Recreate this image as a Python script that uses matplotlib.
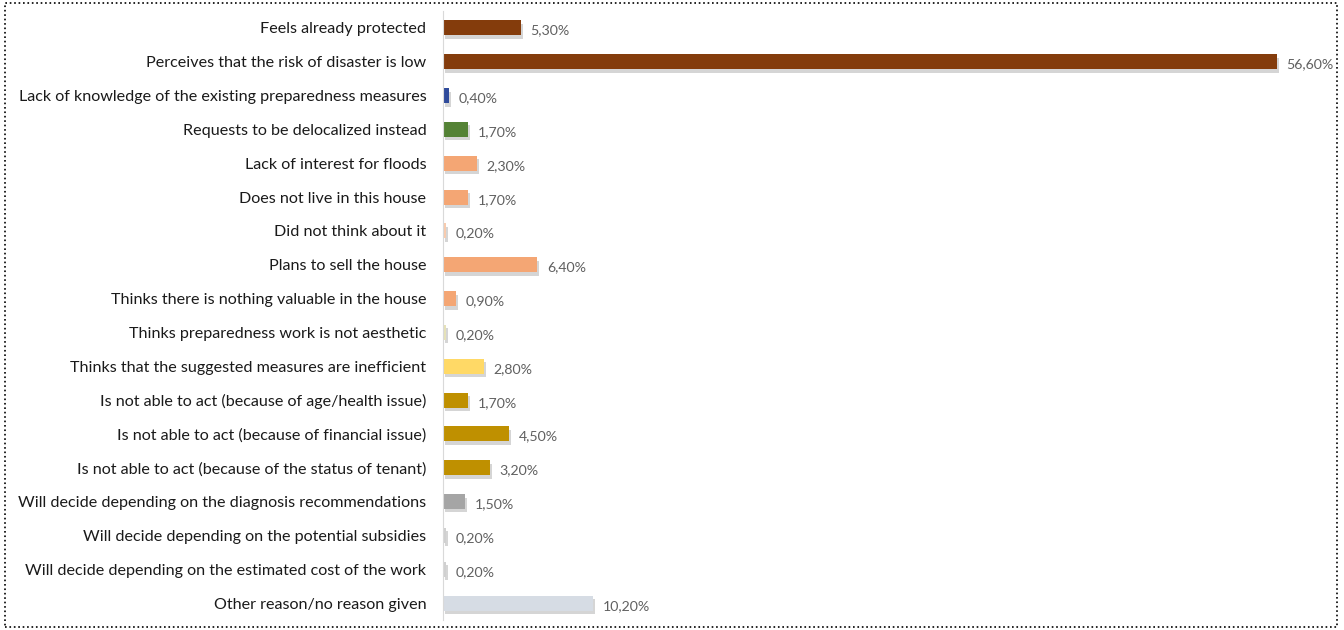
import numpy as np
import matplotlib.pyplot as plt
import matplotlib.patheffects as pe
from matplotlib.patches import Rectangle

# data
reasons = ['Feels already protected',
           'Perceives that the risk of disaster is low',
           'Lack of knowledge of the existing preparedness measures',
           'Requests to be delocalized instead',
           'Lack of interest for floods',
           'Does not live in this house',
           'Did not think about it',
           'Plans to sell the house',
           'Thinks there is nothing valuable in the house',
           'Thinks preparedness work is not aesthetic',
           'Thinks that the suggested measures are inefficient',
           'Is not able to act (because of age/health issue)',
           'Is not able to act (because of financial issue)',
           'Is not able to act (because of the status of tenant)',
           'Will decide depending on the diagnosis recommendations',
           'Will decide depending on the potential subsidies',
           'Will decide depending on the estimated cost of the work',
           'Other reason/no reason given']
percent = [5.3, 56.6, 0.4, 1.7, 2.3, 1.7, 0.2, 6.4, 0.9, 0.2, 2.8, 1.7, 4.5, 3.2, 1.5, 0.2, 0.2, 10.2]
labels = ['5,30%', '56,60%', '0,40%', '1,70%', '2,30%', '1,70%', '0,20%', '6,40%', '0,90%',
          '0,20%', '2,80%', '1,70%', '4,50%', '3,20%', '1,50%', '0,20%', '0,20%', '10,20%']
colors = ['#843C0C', '#843C0C', '#2F4B9B', '#548235', '#F4A674', '#F4A674', '#F8CBAD', '#F4A674',
          '#F4A674', '#E6E2B8', '#FFD966', '#BF9000', '#BF9000', '#BF9000', '#A5A5A5',
          '#D0D0D0', '#D0D0D0', '#D6DCE4']

plt.rcParams['font.family'] = ['Lato', 'DejaVu Sans']

fig = plt.figure(figsize=(13.44, 6.3), dpi=100)
ax = fig.add_axes([0.3296, 0.0159, 0.6575, 0.9666])

y = np.arange(len(reasons))
bars = ax.barh(y, percent, height=0.44, color=colors,
               path_effects=[pe.SimplePatchShadow(offset=(1.5, -2.5), shadow_rgbFace='#888888', alpha=0.35),
                             pe.Normal()])
for yi, v, lab in zip(y, percent, labels):
    ax.text(v + 0.65, yi + 0.08, lab, va='center', ha='left', fontsize=10.2, color='#606060')

ax.set_xlim(0, 60)
ax.set_ylim(len(reasons) - 0.5, -0.5)
ax.set_yticks(y)
ax.set_yticklabels(reasons, fontsize=11.6, color='#1a1a1a')
ax.tick_params(axis='y', length=0, pad=12)
ax.set_xticks([])
for s in ['top', 'right', 'bottom']:
    ax.spines[s].set_visible(False)
ax.spines['left'].set_color('#d9d9d9')

# dotted frame
fig.patches.append(Rectangle((0.004, 0.005), 0.991, 0.99, transform=fig.transFigure,
                             fill=False, linestyle=':', linewidth=1.2, edgecolor='black'))

plt.savefig('out.png', dpi=100)
